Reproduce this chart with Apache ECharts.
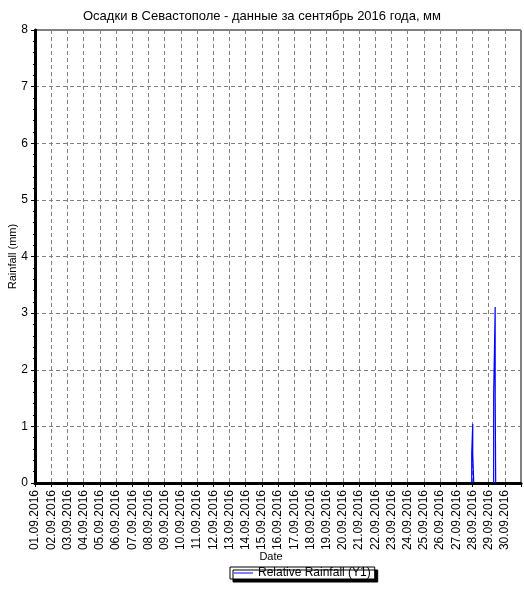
<!DOCTYPE html>
<html>
<head>
<meta charset="utf-8">
<script src="https://cdn.jsdelivr.net/npm/echarts@6/dist/echarts.min.js"></script>
<style>html,body{margin:0;padding:0;background:#fff}#c{width:524px;height:592px}</style>
</head>
<body>
<div id="c"></div>
<script>
const chartTitle = 'Осадки в Севастополе - данные за сентябрь 2016 года, мм';
const dateLabels = ['01.09.2016','02.09.2016','03.09.2016','04.09.2016','05.09.2016','06.09.2016','07.09.2016','08.09.2016','09.09.2016','10.09.2016','11.09.2016','12.09.2016','13.09.2016','14.09.2016','15.09.2016','16.09.2016','17.09.2016','18.09.2016','19.09.2016','20.09.2016','21.09.2016','22.09.2016','23.09.2016','24.09.2016','25.09.2016','26.09.2016','27.09.2016','28.09.2016','29.09.2016','30.09.2016'];
const yTicks = [0,1,2,3,4,5,6,7,8];
// readings (UTC times); null breaks the line where there is no rain
const readingTimes = ['2016-09-27T23:00','2016-09-27T23:00','2016-09-28T00:30','2016-09-28T00:30','2016-09-28T00:30','2016-09-28T02:00','2016-09-28T02:00','2016-09-28T12:00','2016-09-29T07:30','2016-09-29T07:30','2016-09-29T09:45','2016-09-29T09:45','2016-09-29T09:45','2016-09-29T10:30','2016-09-29T10:30'];
const rainfall = [0,0.52,0.52,1.04,0.52,0.52,0,null,0,1.55,1.55,3.11,1.55,1.55,0];

const monthStart = Date.UTC(2016,8,1);
function dayPos(t){ return (Date.parse(t + ':00Z') - monthStart) / 86400000; }
const seriesData = readingTimes.map((t,i) => [dayPos(t), rainfall[i]]);

const font = 'Liberation Sans, Arial, sans-serif';
const chart = echarts.init(document.getElementById('c'), null, {renderer:'canvas'});
chart.setOption({
  animation:false,
  backgroundColor:'#fff',
  title:{text:chartTitle,left:'center',top:5,textStyle:{fontFamily:font,fontSize:13,fontWeight:'normal',color:'#000'}},
  grid:{left:35,top:30,right:3,bottom:109,show:true,borderColor:'#000',borderWidth:1,backgroundColor:'transparent',
    containLabel:false, outerBoundsMode:'none'},
  legend:{
    left:230, top:567, orient:'horizontal', padding:[0,4], itemWidth:19, itemHeight:1,
    icon:'rect',
    backgroundColor:'#fff', borderColor:'#000', borderWidth:1,
    shadowColor:'#000', shadowBlur:0, shadowOffsetX:3, shadowOffsetY:3,
    itemStyle:{color:'#0000ff'},
    textStyle:{fontFamily:font,fontSize:12,color:'#000',lineHeight:12,
      textShadowColor:'transparent',textShadowBlur:0,textShadowOffsetX:0,textShadowOffsetY:0},
    data:['Relative Rainfall (Y1)']
  },
  xAxis:{
    type:'value', min:0, max:30, interval:1,
    name:'Date', nameLocation:'middle', nameGap:68, nameMoveOverlap:false,
    nameTextStyle:{fontFamily:font,fontSize:11,color:'#000',padding:[0,14,0,0]},
    axisLine:{show:true,lineStyle:{color:'#000',width:3}},
    axisTick:{show:true,length:4,lineStyle:{color:'#000'}},
    minorTick:{show:true,splitNumber:6,length:2,lineStyle:{color:'#000'}},
    axisLabel:{rotate:90,margin:7,fontFamily:font,fontSize:12,color:'#000',showMaxLabel:false,
      formatter:v => dateLabels[Math.round(v)] || ''},
    splitLine:{show:true,lineStyle:{color:'#808080',type:[4,3],width:1}}
  },
  yAxis:{
    type:'value', min:0, max:8, interval:1,
    name:'Rainfall (mm)', nameLocation:'middle', nameGap:17, nameMoveOverlap:false,
    nameTextStyle:{fontFamily:font,fontSize:11,color:'#000'},
    axisLine:{show:true,lineStyle:{color:'#000',width:3}},
    axisTick:{show:true,length:4,lineStyle:{color:'#000'}},
    minorTick:{show:true,splitNumber:5,length:2,lineStyle:{color:'#000'}},
    axisLabel:{margin:7,fontFamily:font,fontSize:12,color:'#000',formatter:v => yTicks.includes(v) ? String(v) : ''},
    splitLine:{show:true,lineStyle:{color:'#808080',type:[4,3],width:1}}
  },
  series:[{
    name:'Relative Rainfall (Y1)', type:'line', data:seriesData, symbol:'none', showSymbol:false,
    connectNulls:false, lineStyle:{color:'#0000ff',width:1.2}, itemStyle:{color:'#0000ff'}
  }]
});
</script>
</body>
</html>
